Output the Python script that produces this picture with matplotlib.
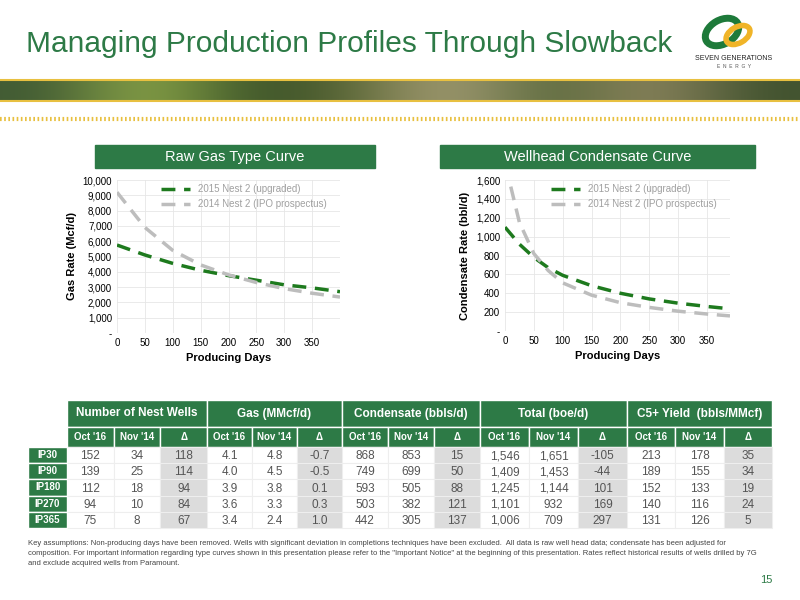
import matplotlib.pyplot as plt
import numpy as np
from matplotlib.patches import Rectangle, Ellipse

plt.rcParams['font.family'] = ['Liberation Sans', 'DejaVu Sans']

GREEN = '#2d7a46'
DKGREEN = '#1e7a1e'
GREY = '#bdbdbd'

# gas type curve (Mcf/d)
gas_days = [0, 50, 100, 150, 200, 250, 300, 350, 400]
gas_2015 = [5750, 5100, 4550, 4100, 3750, 3450, 3150, 2950, 2700]
gas_2014 = [9200, 6900, 5400, 4450, 3800, 3300, 2900, 2600, 2350]

# condensate curve (bbl/d)
cond_days_2015 = [0, 25, 50, 75, 100, 150, 200, 250, 300, 350, 390]
cond_2015 = [1100, 920, 780, 670, 590, 480, 400, 340, 295, 260, 235]
cond_days_2014 = [10, 25, 50, 75, 100, 150, 200, 250, 300, 350, 390]
cond_2014 = [1530, 1150, 820, 640, 510, 380, 300, 250, 210, 180, 160]

groups = ['Number of Nest Wells', 'Gas (MMcf/d)', 'Condensate (bbls/d)',
          'Total (boe/d)', 'C5+ Yield  (bbls/MMcf)']
subcols = ["Oct '16", "Nov '14", 'Δ']
row_labels = ['IP30', 'IP90', 'IP180', 'IP270', 'IP365']
table_rows = [
    ['152', '34', '118', '4.1', '4.8', '-0.7', '868', '853', '15', '1,546', '1,651', '-105', '213', '178', '35'],
    ['139', '25', '114', '4.0', '4.5', '-0.5', '749', '699', '50', '1,409', '1,453', '-44', '189', '155', '34'],
    ['112', '18', '94', '3.9', '3.8', '0.1', '593', '505', '88', '1,245', '1,144', '101', '152', '133', '19'],
    ['94', '10', '84', '3.6', '3.3', '0.3', '503', '382', '121', '1,101', '932', '169', '140', '116', '24'],
    ['75', '8', '67', '3.4', '2.4', '1.0', '442', '305', '137', '1,006', '709', '297', '131', '126', '5'],
]

fig = plt.figure(figsize=(8, 6), dpi=100)
W, H = 800, 600


def fax(x0, y0, x1, y1):
    # axes from pixel box (top-left origin)
    return fig.add_axes([x0 / W, 1 - y1 / H, (x1 - x0) / W, (y1 - y0) / H])


# background overlay in pixel coords
bg = fax(0, 0, 800, 600)
bg.set_xlim(0, 800)
bg.set_ylim(600, 0)
bg.axis('off')

bg.text(26, 44, 'Managing Production Profiles Through Slowback', fontsize=21.5,
        color=GREEN, va='center', ha='left')

# logo
bg.add_patch(Ellipse((722, 32), 36, 24, angle=-30, fc='none', ec='#1e7a3a', lw=5))
bg.add_patch(Ellipse((738, 35), 26, 16, angle=-30, fc='none', ec='#f0b428', lw=4))
bg.text(734, 58, 'SEVEN GENERATIONS', fontsize=5, ha='center', va='center', color='#222222')
bg.text(734, 66, 'E  N  E  R  G  Y', fontsize=3.5, ha='center', va='center', color='#555555')

# banner strip
strip = np.array([[0.25, 0.35, 0.2], [0.6, 0.7, 0.3], [0.2, 0.3, 0.15], [0.35, 0.4, 0.2],
                  [0.7, 0.65, 0.5], [0.3, 0.38, 0.2], [0.6, 0.55, 0.4], [0.25, 0.32, 0.18]])
bg.imshow(strip[None, :, :], extent=(0, 800, 100, 80), aspect='auto', interpolation='bicubic')
bg.plot([0, 800], [80, 80], color='#e8c040', lw=1.5)
bg.plot([0, 800], [100.5, 100.5], color='#e8c040', lw=1.5)
bg.plot([0, 800], [119, 119], color='#e8c040', lw=3, ls=(0, (0.4, 0.6)))

# chart headers
for x0, x1, t in [(95, 375, 'Raw Gas Type Curve'), (440, 755, 'Wellhead Condensate Curve')]:
    bg.add_patch(Rectangle((x0, 145), x1 - x0, 23, color=GREEN))
    bg.text((x0 + x1) / 2, 157, t, color='white', fontsize=10.5, ha='center', va='center')

bg.text(28, 540, 'Key assumptions: Non-producing days have been removed. Wells with significant deviation in completions techniques have been excluded.  All data is raw well head data; condensate has been adjusted for\n'
        'composition. For important information regarding type curves shown in this presentation please refer to the "Important Notice" at the beginning of this presentation. Rates reflect historical results of wells drilled by 7G\n'
        'and exclude acquired wells from Paramount.', fontsize=5.5, color='#444444', va='top', linespacing=1.6)
bg.text(772, 580, '15', fontsize=8, color=GREEN, ha='right', va='center')


def curve_axes(ax, ylim, ystep, ylabel):
    ax.set_ylim(*ylim)
    ax.set_xticks(range(0, 400, 50))
    ticks = np.arange(ylim[0], ylim[1] + 1, ystep)
    ax.set_yticks(ticks)
    ax.set_yticklabels(['-'] + [f'{int(t):,}' for t in ticks[1:]])
    ax.grid(color='#e6e6e6', lw=0.6)
    for s in ax.spines.values():
        s.set_visible(False)
    ax.tick_params(length=0, labelsize=7)
    ax.set_xlabel('Producing Days', fontsize=8, fontweight='bold')
    ax.set_ylabel(ylabel, fontsize=8, fontweight='bold')
    leg = ax.legend(loc='upper right', frameon=False, fontsize=7, handlelength=3,
                    bbox_to_anchor=(0.98, 1.03))
    for t in leg.get_texts():
        t.set_color('#a0a0a0')


ax1 = fax(117, 180, 340, 333)
ax1.plot(gas_days, gas_2015, color=DKGREEN, lw=2.5, ls=(0, (4, 2.5)), label='2015 Nest 2 (upgraded)')
ax1.plot(gas_days, gas_2014, color=GREY, lw=2.5, ls=(0, (4, 2.5)), label='2014 Nest 2 (IPO prospectus)')
ax1.set_xlim(0, 400)
curve_axes(ax1, (0, 10000), 1000, 'Gas Rate (Mcf/d)')

ax2 = fax(505, 180, 730, 331)
ax2.plot(cond_days_2015, cond_2015, color=DKGREEN, lw=2.5, ls=(0, (4, 2.5)), label='2015 Nest 2 (upgraded)')
ax2.plot(cond_days_2014, cond_2014, color=GREY, lw=2.5, ls=(0, (4, 2.5)), label='2014 Nest 2 (IPO prospectus)')
ax2.set_xlim(0, 390)
curve_axes(ax2, (0, 1600), 200, 'Condensate Rate (bbl/d)')

# table
group_edges = [67, 207, 342, 480, 627, 772]
y_head, y_sub, y_data, row_h = 400, 427, 447, 16.2
for g, name in enumerate(groups):
    gx0, gx1 = group_edges[g], group_edges[g + 1]
    bg.add_patch(Rectangle((gx0, y_head), gx1 - gx0, y_sub - y_head, fc=GREEN, ec='white', lw=1))
    bg.text((gx0 + gx1) / 2, (y_head + y_sub) / 2, name, color='white', fontsize=8.5,
            fontweight='bold', ha='center', va='center')
    sw = (gx1 - gx0) / 3
    for k, sc in enumerate(subcols):
        sx = gx0 + k * sw
        bg.add_patch(Rectangle((sx, y_sub), sw, y_data - y_sub, fc=GREEN, ec='white', lw=1))
        bg.text(sx + sw / 2, (y_sub + y_data) / 2, sc, color='white', fontsize=7,
                fontweight='bold', ha='center', va='center')
        for r, row in enumerate(table_rows):
            ry = y_data + r * row_h
            fc = '#dcdcdc' if k == 2 else 'white'
            bg.add_patch(Rectangle((sx, ry), sw, row_h, fc=fc, ec='#eeeeee', lw=0.8))
            bg.text(sx + sw / 2, ry + row_h / 2 + 1, row[g * 3 + k], fontsize=8.5,
                    color='#555555', ha='center', va='center')
for r, lab in enumerate(row_labels):
    ry = y_data + r * row_h
    bg.add_patch(Rectangle((28, ry), 39, row_h, fc=GREEN, ec='white', lw=1))
    bg.text(47.5, ry + row_h / 2, lab, color='white', fontsize=7, fontweight='bold',
            ha='center', va='center')

fig.savefig('out.png', dpi=100)
